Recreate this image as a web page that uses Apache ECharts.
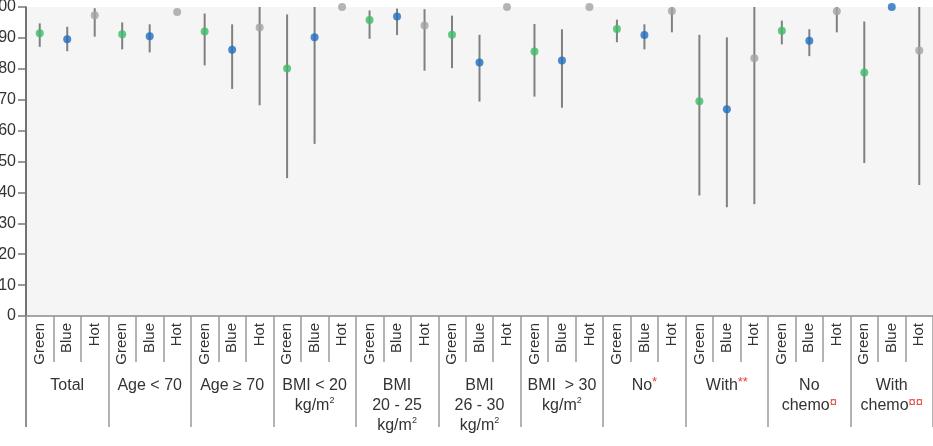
<!DOCTYPE html>
<html style="height: 100%">
<head>
  <meta charset="utf-8">
</head>
<body style="height: 100%; margin: 0">
  <div id="container" style="width: 933px; height: 446px"></div>
  <script type="text/javascript" src="https://fastly.jsdelivr.net/npm/echarts@6.0.0/dist/echarts.min.js"></script>
  <script type="text/javascript">
    // groups along the bottom (rich text markup for superscripts / red marks)
    var groups = [
      'Total', 'Age < 70', 'Age \u2265 70', 'BMI < 20\nkg/m{sup|2}', 'BMI\n20 - 25\nkg/m{sup|2}',
      'BMI\n26 - 30\nkg/m{sup|2}', 'BMI  > 30\nkg/m{sup|2}', 'No{red|*}', 'With{red|**}',
      'No\nchemo{red|\u00a4}', 'With\nchemo{red|\u00a4\u00a4}'
    ];
    var subCats = ['Green', 'Blue', 'Hot'];
    var yTicks = [0, 10, 20, 30, 40, 50, 60, 70, 80, 90, 100];

    // estimates, one per group: Green, Blue, Hot
    var est = [
      91.5, 89.6, 97.3,
      91.2, 90.5, 98.4,
      92.1, 86.2, 93.4,
      80.1, 90.2, 100,
      95.8, 96.9, 94.0,
      91.0, 82.0, 100,
      85.6, 82.7, 100,
      92.9, 90.9, 98.7,
      69.5, 66.9, 83.4,
      92.3, 89.1, 98.6,
      78.8, 100, 85.9
    ];
    var low = [
      87.1, 85.7, 90.4,
      86.3, 85.3, 98.4,
      81.1, 73.5, 68.2,
      44.6, 55.7, 100,
      89.7, 90.9, 79.4,
      80.2, 69.4, 100,
      71.0, 67.4, 100,
      88.6, 86.3, 91.8,
      39.0, 35.2, 36.2,
      87.9, 84.1, 91.8,
      49.5, 100, 42.4
    ];
    var high = [
      94.7, 93.6, 99.6,
      95.0, 94.4, 98.4,
      97.9, 94.4, 100,
      97.6, 100, 100,
      98.9, 99.5, 99.3,
      97.2, 91.0, 100,
      94.5, 92.8, 100,
      95.9, 94.4, 100,
      91.0, 90.2, 100,
      95.6, 92.8, 100,
      95.3, 100, 100
    ];

    var colors = { Green: '#3dbb68', Blue: '#1f6ebf', Hot: '#a3a3a3' };

    var cats = [];
    groups.forEach(function () { subCats.forEach(function (s) { cats.push(s); }); });

    var pts = est.map(function (v, i) {
      return { value: [i, v], itemStyle: { color: colors[cats[i]] } };
    });
    var bars = est.map(function (v, i) { return [i, low[i], high[i]]; });

    var myChart = echarts.init(document.getElementById('container'), null, { renderer: 'canvas' });

    var font = 'Liberation Sans, Arial, sans-serif';

    var option = {
      animation: false,
      grid: {
        left: 26, right: 0, top: 7, bottom: 130,
        outerBoundsMode: 'none',
        containLabel: false,
        show: true, backgroundColor: '#f5f5f5', borderWidth: 0
      },
      xAxis: [{
        type: 'category',
        data: cats,
        position: 'bottom',
        axisLine: { lineStyle: { color: '#8a8a8a', width: 1.5 } },
        axisTick: { show: true, interval: 0, length: 46, lineStyle: { color: '#9a9a9a', width: 1.5 } },
        axisLabel: {
          interval: 0, rotate: 90, margin: 7,
          fontFamily: font, fontSize: 15, color: '#333'
        }
      }, {
        type: 'category',
        data: groups,
        position: 'bottom',
        axisLine: { show: false },
        axisTick: { show: true, interval: 0, length: 111, lineStyle: { color: '#9a9a9a', width: 1.5 } },
        axisLabel: {
          interval: 0, margin: 60, verticalAlign: 'top',
          fontFamily: font, fontSize: 16, color: '#333', lineHeight: 20,
          rich: {
            sup: { fontSize: 9, verticalAlign: 'top', lineHeight: 14, fontFamily: font, color: '#333' },
            red: { color: '#e0413b', fontSize: 13, verticalAlign: 'top', lineHeight: 14, fontFamily: font }
          }
        }
      }],
      yAxis: {
        type: 'value',
        min: 0, max: 100, interval: 10,
        splitLine: { show: false },
        axisLine: { show: true, lineStyle: { color: '#444', width: 1.5 } },
        axisTick: { show: true, length: 8, lineStyle: { color: '#777', width: 1.5 } },
        axisLabel: {
          margin: 10, fontFamily: font, fontSize: 16, color: '#333',
          formatter: function (v) { return yTicks.indexOf(v) >= 0 ? String(v) : ''; }
        }
      },
      series: [{
        type: 'custom',
        xAxisIndex: 0,
        data: bars,
        renderItem: function (params, api) {
          var a = api.coord([api.value(0), api.value(1)]);
          var b = api.coord([api.value(0), api.value(2)]);
          return {
            type: 'line',
            shape: { x1: a[0], y1: a[1], x2: b[0], y2: b[1] },
            style: { stroke: '#808080', lineWidth: 2 }
          };
        },
        z: 2
      }, {
        type: 'scatter',
        xAxisIndex: 0,
        symbolSize: 8,
        data: pts,
        z: 3
      }]
    };

    myChart.setOption(option);
    // left axis line continues down through the label area
    myChart.setOption({
      graphic: [{
        type: 'line',
        shape: { x1: 26, y1: 316, x2: 26, y2: 427 },
        style: { stroke: '#444', lineWidth: 1.5 }
      }]
    });
  </script>
</body>
</html>
